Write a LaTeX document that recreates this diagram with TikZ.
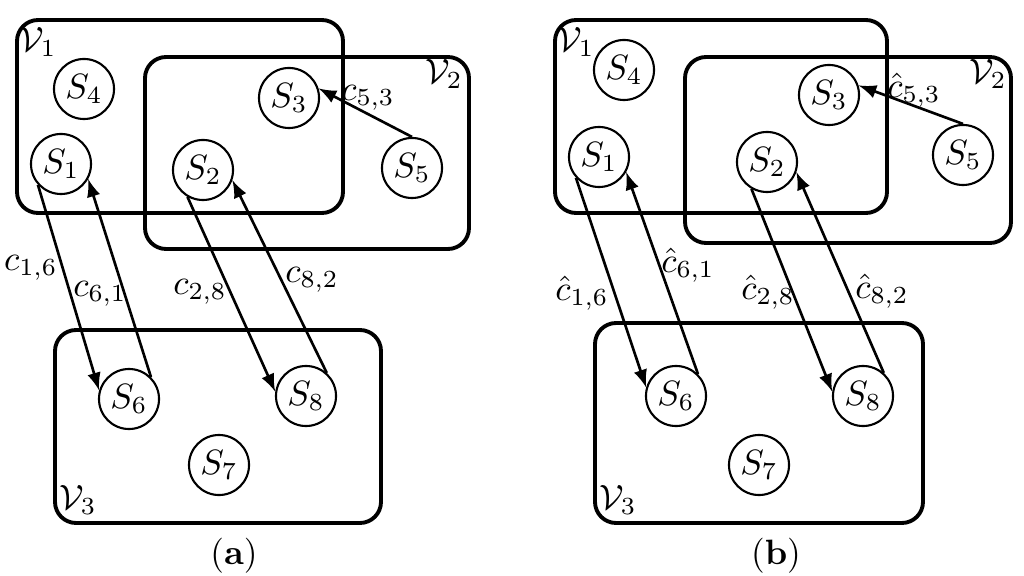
\documentclass[tikz,border=0pt]{standalone}
\usepackage{amsmath}
\usepackage{amssymb}
\begin{document}
\begin{tikzpicture}[x=0.01cm,y=-0.01cm,
    font=\fontsize{10}{12}\selectfont,
    set/.style={line width=1.1pt,rounded corners=6pt},
    sensor/.style={draw,circle,line width=0.6pt,minimum size=0.6cm,inner sep=0pt},
    link/.style={->,>=latex,line width=0.75pt}]
  \useasboundingbox (0,0) rectangle (1024,576);

  % panel (a): sets
  \draw[set] (17,20) rectangle (343,213);
  \draw[set] (145,57) rectangle (469,249);
  \draw[set] (55,330) rectangle (381,523);
  \node (av1) at (38,42) {$\mathcal{V}_1$};
  \node (av2) at (444,74) {$\mathcal{V}_2$};
  \node (av3) at (78,500) {$\mathcal{V}_3$};

  % panel (a): sensors
  \node[sensor] (a4) at (84,89) {$S_4$};
  \node[sensor] (a3) at (289,98) {$S_3$};
  \node[sensor] (a1) at (61,164) {$S_1$};
  \node[sensor] (a2) at (203,170) {$S_2$};
  \node[sensor] (a5) at (412,168) {$S_5$};
  \node[sensor] (a6) at (129,399) {$S_6$};
  \node[sensor] (a8) at (306,396) {$S_8$};
  \node[sensor] (a7) at (219,465) {$S_7$};

  % panel (a): links
  \draw[link] (a1.222) -- (a6.164);
  \draw[link] (a6.45) -- (a1.-29);
  \draw[link] (a2.240) -- (a8.172);
  \draw[link] (a8.48) -- (a2.-19);
  \draw[link] (a5.90) -- (a3.18);
  \node[anchor=west,inner sep=1pt] (ac16) at (0,268) {$c_{1,6}$};
  \node (ac61) at (100,294) {$c_{6,1}$};
  \node (ac28) at (200,292) {$c_{2,8}$};
  \node (ac82) at (312,280) {$c_{8,2}$};
  \node (ac53) at (368,98) {$c_{5,3}$};
  \node (alab) at (234,556) {$(\mathbf{a})$};

  % panel (b): sets
  \draw[set] (555,20) rectangle (887,213);
  \draw[set] (685,57) rectangle (1011,243);
  \draw[set] (595,323) rectangle (923,523);
  \node (bv1) at (576,42) {$\mathcal{V}_1$};
  \node (bv2) at (988,74) {$\mathcal{V}_2$};
  \node (bv3) at (618,500) {$\mathcal{V}_3$};

  % panel (b): sensors
  \node[sensor] (b4) at (624,70) {$S_4$};
  \node[sensor] (b3) at (829,95) {$S_3$};
  \node[sensor] (b1) at (599,157) {$S_1$};
  \node[sensor] (b2) at (767,162) {$S_2$};
  \node[sensor] (b5) at (963,155) {$S_5$};
  \node[sensor] (b6) at (676,396) {$S_6$};
  \node[sensor] (b8) at (863,396) {$S_8$};
  \node[sensor] (b7) at (759,465) {$S_7$};

  % panel (b): links
  \draw[link] (b1.222) -- (b6.164);
  \draw[link] (b6.45) -- (b1.-29);
  \draw[link] (b2.240) -- (b8.172);
  \draw[link] (b8.48) -- (b2.-19);
  \draw[link] (b5.90) -- (b3.18);
  \node (bc16) at (582,293) {$\hat{c}_{1,6}$};
  \node (bc61) at (688,265) {$\hat{c}_{6,1}$};
  \node (bc28) at (768,292) {$\hat{c}_{2,8}$};
  \node (bc82) at (882,291) {$\hat{c}_{8,2}$};
  \node (bc53) at (914,90) {$\hat{c}_{5,3}$};
  \node (blab) at (776,556) {$(\mathbf{b})$};
\end{tikzpicture}
\end{document}
